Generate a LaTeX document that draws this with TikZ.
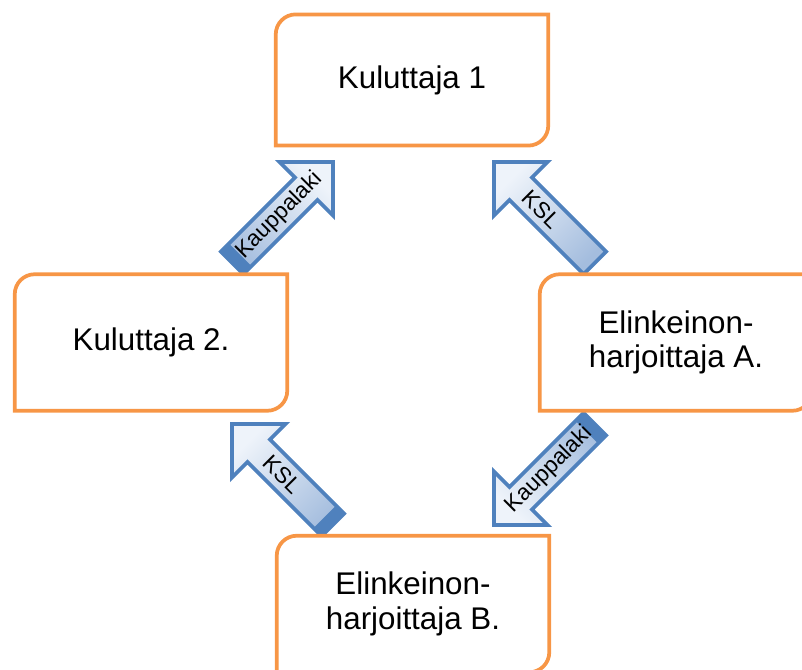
\documentclass[tikz,border=0pt]{standalone}
\usepackage{fontspec}
\setmainfont{Liberation Sans}
\usetikzlibrary{calc,shapes.arrows,backgrounds}
\definecolor{boxorange}{HTML}{F79646}
\definecolor{flowblue}{HTML}{4F81BD}
\definecolor{flowlight}{HTML}{EEF3FA}
\definecolor{flowshade}{HTML}{A4BDDE}
\tikzset{
  box/.style={inner sep=0pt, minimum width=204pt, minimum height=102pt, align=center, font=\fontsize{23.5}{26}\selectfont},
  boxline/.style={draw=boxorange, line width=2.8pt, fill=white},
  flow/.style={single arrow, single arrow tip angle=90, single arrow head extend=16.5pt, text height=10.5pt, text depth=10.5pt, inner sep=0pt, outer sep=0pt, minimum height=107pt, draw=flowblue, line width=2.8pt, top color=flowlight, bottom color=flowshade},
  flowtext/.style={inner sep=0pt, font=\fontsize{17}{20}\selectfont},
  flowend/.style={fill=flowblue, draw=flowblue, line width=1pt}
}
\begin{document}
\begin{tikzpicture}[x=0.75pt,y=-0.75pt]
  \useasboundingbox (0,0) rectangle (802,670);
  \node[box, minimum height=98pt] (k1) at (412,80) {Kuluttaja 1};
  \node[box] (k2) at (151,342.5) {Kuluttaja 2.};
  \node[box] (ea) at (676,342.5) {Elinkeinon-\\harjoittaja A.};
  \node[box] (eb) at (413,604) {Elinkeinon-\\harjoittaja B.};
  \begin{scope}[on background layer]
    \node[flow, shading angle=-45, rotate=45, anchor=tip] (a1) at (333,162) {};
    \node[flow, shading angle=45, rotate=135, anchor=tip] (a2) at (494,162) {};
    \node[flow, shading angle=45, rotate=135, anchor=tip] (a3) at (232,424) {};
    \node[flow, shading angle=135, rotate=225, anchor=tip] (a4) at (494,525) {};
    \filldraw[flowend] (a1.before tail) -- (a1.after tail) -- ($(a1.after tail)+(45:8pt)$) -- ($(a1.before tail)+(45:8pt)$) -- cycle;
    \filldraw[flowend] (a3.before tail) -- (a3.after tail) -- ($(a3.after tail)+(135:8pt)$) -- ($(a3.before tail)+(135:8pt)$) -- cycle;
    \filldraw[flowend] (a4.before tail) -- (a4.after tail) -- ($(a4.after tail)+(225:8pt)$) -- ($(a4.before tail)+(225:8pt)$) -- cycle;
    \node[flowtext, rotate=45] (t1) at ($(a1.tip)!0.53!(a1.tail)$) {Kauppalaki};
    \node[flowtext, rotate=-45] (t2) at ($(a2.tip)!0.47!(a2.tail)$) {KSL};
    \node[flowtext, rotate=-45] (t3) at ($(a3.tip)!0.5!(a3.tail)$) {KSL};
    \node[flowtext, rotate=45] (t4) at ($(a4.tip)!0.55!(a4.tail)$) {Kauppalaki};
    \foreach \b in {k1,k2,ea,eb}
      \filldraw[boxline] (\b.west) [rounded corners=15pt] |- (\b.north) [sharp corners] -| (\b.east) [rounded corners=15pt] |- (\b.south) [sharp corners] -| (\b.west) -- cycle;
  \end{scope}
\end{tikzpicture}
\end{document}
